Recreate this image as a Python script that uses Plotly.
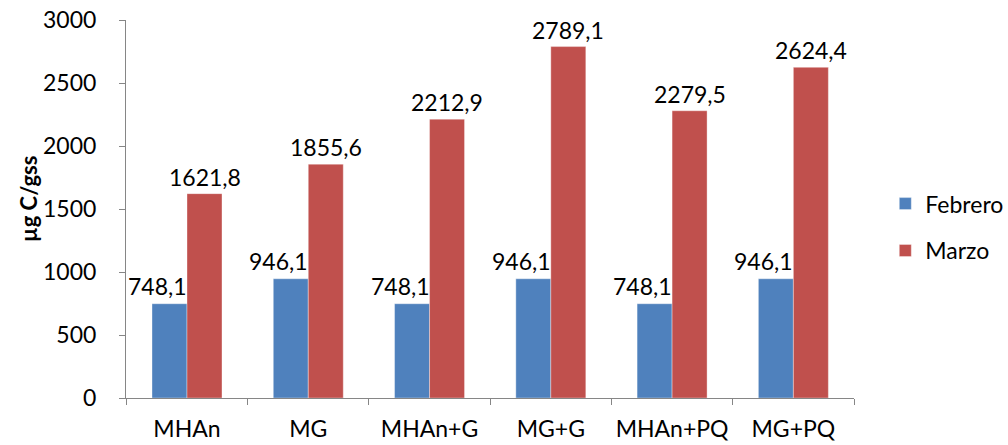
import plotly.graph_objects as go

# Treatments and monthly values (µg C/gss)
categories = ["MHAn", "MG", "MHAn+G", "MG+G", "MHAn+PQ", "MG+PQ"]
febrero = [748.1, 946.1, 748.1, 946.1, 748.1, 946.1]
marzo = [1621.8, 1855.6, 2212.9, 2789.1, 2279.5, 2624.4]
y_ticks = [0, 500, 1000, 1500, 2000, 2500, 3000]

BLUE = "#4F81BD"
RED = "#C0504D"
FONT = "Lato, 'Open Sans', sans-serif"
AXIS_GREY = "#868686"
TXT = 23


def fmt(v):
    return f"{v:.1f}".replace(".", ",")


fig = go.Figure()
fig.add_trace(go.Bar(
    x=categories, y=febrero, name="Febrero", legendgroup="feb",
    marker=dict(color=BLUE, line=dict(color="rgba(255,255,255,0.45)", width=0.8)),
))
fig.add_trace(go.Bar(
    x=categories, y=marzo, name="Marzo", legendgroup="mar",
    marker=dict(color=RED, line=dict(color="rgba(255,255,255,0.45)", width=0.8)),
))

annotations = []
# Febrero labels sit above the bar, right-aligned to its right edge
for c, v in zip(categories, febrero):
    annotations.append(dict(
        x=c, y=v, xref="x", yref="y", text=fmt(v), showarrow=False,
        xanchor="right", yanchor="bottom", xshift=2, yshift=2,
        font=dict(family=FONT, size=TXT, color="#000000"),
    ))
# Marzo labels centred over the bar
for c, v in zip(categories, marzo):
    annotations.append(dict(
        x=c, y=v, xref="x", yref="y", text=fmt(v), showarrow=False,
        xanchor="center", yanchor="bottom", xshift=17.5, yshift=1,
        font=dict(family=FONT, size=TXT, color="#000000"),
    ))
# Vertical y-axis title
annotations.append(dict(
    x=-0.135, y=0.526, xref="paper", yref="paper", text="<b>µg C/gss</b>",
    textangle=-90, showarrow=False, xanchor="center", yanchor="middle",
    font=dict(family=FONT, size=22, color="#000000"),
))

fig.update_layout(
    width=1008, height=445,
    margin=dict(l=126, r=154, t=20, b=47, autoexpand=False),
    paper_bgcolor="white", plot_bgcolor="white",
    barmode="group", bargap=0.423, bargroupgap=0,
    font=dict(family=FONT, size=TXT, color="#000000"),
    annotations=annotations,
    showlegend=True,
    legend=dict(
        x=1.043, y=0.452, xanchor="left", yanchor="middle",
        font=dict(family=FONT, size=TXT, color="#000000"),
        tracegroupgap=14, bgcolor="rgba(0,0,0,0)",
    ),
    xaxis=dict(
        type="category", tickson="boundaries", ticks="outside", ticklen=6,
        tickcolor=AXIS_GREY, showline=True, linecolor=AXIS_GREY, linewidth=1,
        showgrid=False, zeroline=False, ticklabelstandoff=10,
        tickangle=0, automargin=False,
        tickfont=dict(family=FONT, size=TXT, color="#000000"),
    ),
    yaxis=dict(
        range=[0, 3000], tickvals=y_ticks, ticktext=[str(t) for t in y_ticks],
        ticks="outside", ticklen=6, tickcolor=AXIS_GREY,
        showline=True, linecolor=AXIS_GREY, linewidth=1,
        showgrid=False, zeroline=False, ticklabelstandoff=18,
        automargin=False,
        tickfont=dict(family=FONT, size=TXT, color="#000000"),
    ),
)

fig.write_html("out.html")
